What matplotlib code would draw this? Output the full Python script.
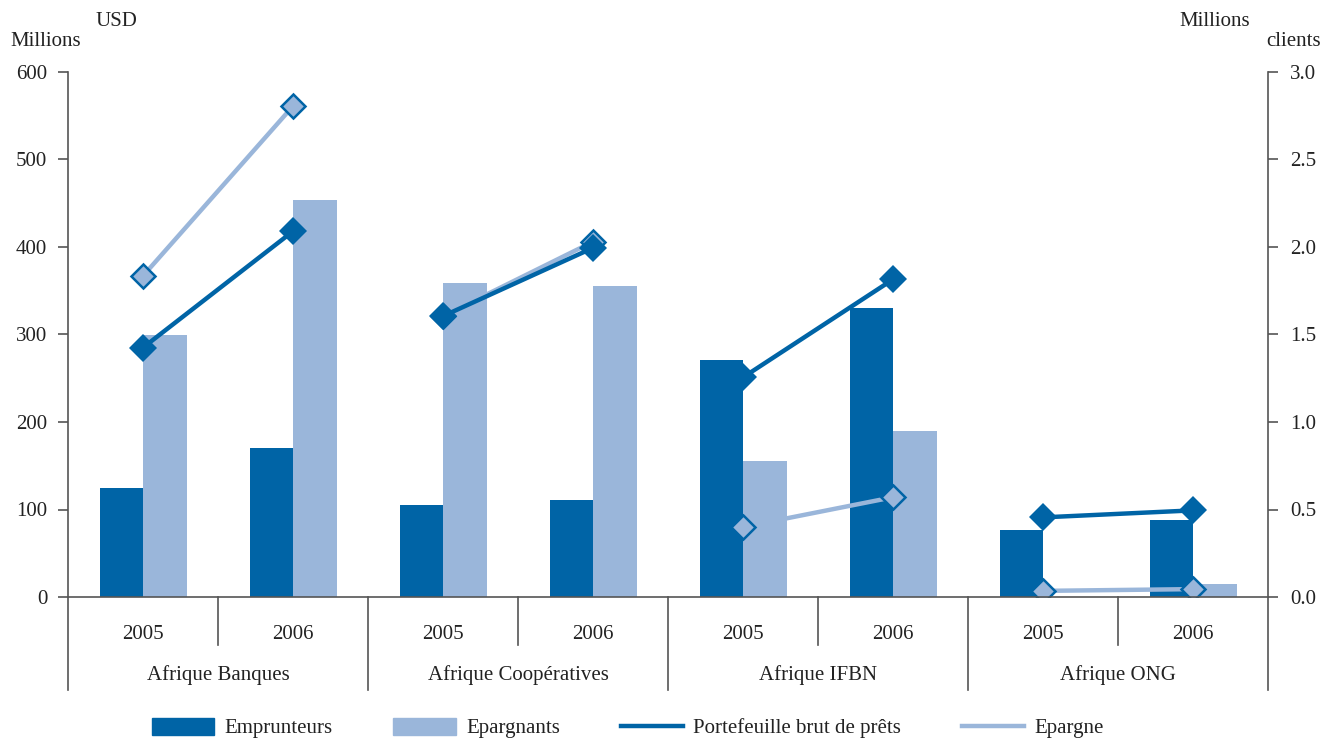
import matplotlib
matplotlib.use("Agg")
import matplotlib.pyplot as plt
import matplotlib.transforms as mtransforms
from matplotlib.lines import Line2D
from matplotlib.patches import Patch
import numpy as np

# ---- data ----
groups = ["Afrique Banques", "Afrique Coopératives", "Afrique IFBN", "Afrique ONG"]
years = ["2005", "2006"]
# bars: millions of clients (right axis)
emprunteurs = [0.625, 0.85, 0.525, 0.555, 1.355, 1.65, 0.385, 0.44]
epargnants = [1.495, 2.27, 1.795, 1.775, 0.775, 0.95, 0.0, 0.075]
# lines: millions USD (left axis)
portefeuille = [285, 418, 321, 399, 251, 363, 91, 99]
epargne = [367, 561, 321, 406, 80, 114, 7, 9]

DARK = "#0064A6"
LIGHT = "#9AB6DA"
AXC = "#555555"
TXT = "#222222"
FONT = "Liberation Serif"
FS = 15

plt.rcParams["font.family"] = FONT

fig = plt.figure(figsize=(13.23, 7.40), dpi=100)
W, H = 1323, 740
ax = fig.add_axes([68 / W, 1 - 597 / H, 1200 / W, 525 / H])
ax2 = ax.twinx()
ax.set_zorder(ax2.get_zorder() + 1)
ax.patch.set_visible(False)

n = len(emprunteurs)
x = np.arange(n)
bw = 0.29
ax2.bar(x - bw / 2, emprunteurs, width=bw, color=DARK, linewidth=0)
ax2.bar(x + bw / 2, epargnants, width=bw, color=LIGHT, linewidth=0)

for g in range(len(groups)):
    idx = [2 * g, 2 * g + 1]
    ax.plot(x[idx], [epargne[i] for i in idx], color=LIGHT, lw=3.2, zorder=2,
            marker="D", markersize=12, markerfacecolor=LIGHT,
            markeredgecolor=DARK, markeredgewidth=1.8, solid_capstyle="butt")
    ax.plot(x[idx], [portefeuille[i] for i in idx], color=DARK, lw=3.2, zorder=3,
            marker="D", markersize=14, markerfacecolor=DARK,
            markeredgecolor=DARK, markeredgewidth=0, solid_capstyle="butt")

ax.set_xlim(-0.5, n - 0.5)
ax.set_ylim(0, 600)
ax2.set_ylim(0, 3.0)
ax.set_yticks(np.arange(0, 601, 100))
ax2.set_yticks(np.arange(0, 3.01, 0.5))
ax2.set_yticklabels([f"{v:.1f}" for v in np.arange(0, 3.01, 0.5)])

for a in (ax, ax2):
    for s in a.spines.values():
        s.set_visible(False)
ax.tick_params(axis="y", direction="out", length=7, width=1.2, color=AXC,
               labelsize=FS, pad=8, labelcolor=TXT)
ax2.tick_params(axis="y", direction="out", length=7, width=1.2, color=AXC,
                labelsize=FS, pad=9, labelcolor=TXT)
ax.tick_params(axis="x", length=0, labelsize=FS, pad=20, labelcolor=TXT)
ax.set_xticks(x)
ax.set_xticklabels(years * len(groups))

trans = mtransforms.blended_transform_factory(ax.transData, ax.transAxes)
px = 1.0 / 525  # one pixel in axes fraction (vertical)
ax.plot([-0.5, n - 0.5], [0, 0], transform=trans, color=AXC, lw=1.2, clip_on=False, zorder=5)
for b in np.arange(-0.5, n, 2):
    top = 1.0 if b in (-0.5, n - 0.5) else 0.0
    ax.plot([b, b], [top, -93 * px], transform=trans, color=AXC, lw=1.2, clip_on=False, zorder=5)
for b in np.arange(0.5, n, 2):
    ax.plot([b, b], [0, -48 * px], transform=trans, color=AXC, lw=1.2, clip_on=False, zorder=5)
for g, name in enumerate(groups):
    ax.text(2 * g + 0.5, -78 * px, name, transform=trans, ha="center", va="center",
            fontsize=FS, color=TXT)

fig.text(10 / W, 1 - 42 / H, "Millions", ha="left", va="center", fontsize=FS, color=TXT)
fig.text(95 / W, 1 - 22 / H, "USD", ha="left", va="center", fontsize=FS, color=TXT)
fig.text(1250 / W, 1 - 22 / H, "Millions", ha="right", va="center", fontsize=FS, color=TXT)
fig.text(1266 / W, 1 - 42 / H, "clients", ha="left", va="center", fontsize=FS, color=TXT)

handles = [Patch(color=DARK), Patch(color=LIGHT),
           Line2D([], [], color=DARK, lw=3.2), Line2D([], [], color=LIGHT, lw=3.2)]
labels = ["Emprunteurs", "Epargnants", "Portefeuille brut de prêts", "Epargne"]
fig.legend(handles, labels, loc="center", bbox_to_anchor=(628 / W, 1 - 728 / H), ncol=4,
           frameon=False, fontsize=FS, handlelength=3.0, handleheight=0.9,
           columnspacing=2.9, handletextpad=0.5, labelcolor=TXT)

fig.savefig("out.png", dpi=100)
